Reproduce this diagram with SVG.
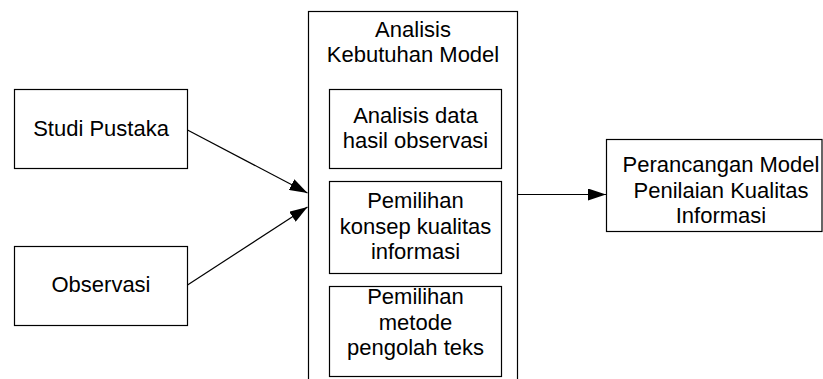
<svg xmlns="http://www.w3.org/2000/svg" width="823" height="379" viewBox="0 0 823 379">
<style>
.box{fill:#fff;stroke:#000;stroke-width:1.2}
.t{font-family:"Liberation Sans",Arial,sans-serif;font-size:22px;fill:#000;text-anchor:middle}
.c{fill:none;stroke:#000;stroke-width:1.2}
</style>
<defs>
<marker id="ah" markerWidth="18" markerHeight="12" refX="18" refY="6" orient="auto" markerUnits="userSpaceOnUse">
<path d="M0,0 L18,6 L0,12 Z" fill="#000"/>
</marker>
</defs>
<rect width="823" height="379" fill="#fff"/>
<g id="studi">
<rect class="box" x="14.5" y="89.5" width="173" height="79"/>
<text class="t" x="101" y="136">Studi Pustaka</text>
</g>
<g id="observasi">
<rect class="box" x="14.5" y="246.5" width="173" height="79"/>
<text class="t" x="101" y="292">Observasi</text>
</g>
<g id="analisis">
<rect class="box" x="308.5" y="11.5" width="209" height="380"/>
<text class="t" x="413" y="37">Analisis</text>
<text class="t" x="413" y="62">Kebutuhan Model</text>
</g>
<g id="sub1">
<rect class="box" x="329.5" y="89.5" width="172" height="79"/>
<text class="t" x="415.5" y="122.5">Analisis data</text>
<text class="t" x="415.5" y="148">hasil observasi</text>
</g>
<g id="sub2">
<rect class="box" x="329.5" y="181.5" width="172" height="92"/>
<text class="t" x="415.5" y="208">Pemilihan</text>
<text class="t" x="415.5" y="233.5">konsep kualitas</text>
<text class="t" x="415.5" y="259">informasi</text>
</g>
<g id="sub3">
<rect class="box" x="329.5" y="286.5" width="172" height="90"/>
<text class="t" x="415.5" y="304">Pemilihan</text>
<text class="t" x="415.5" y="329.5">metode</text>
<text class="t" x="415.5" y="355">pengolah teks</text>
</g>
<g id="perancangan">
<rect class="box" x="606.5" y="139.5" width="215.5" height="92"/>
<text class="t" x="721" y="171.5">Perancangan Model</text>
<text class="t" x="721" y="197.5">Penilaian Kualitas</text>
<text class="t" x="721" y="222.5">Informasi</text>
</g>
<g id="connectors">
<line class="c" x1="187.5" y1="130" x2="307.5" y2="193" marker-end="url(#ah)"/>
<line class="c" x1="187.5" y1="285" x2="307.5" y2="207" marker-end="url(#ah)"/>
<line class="c" x1="517.5" y1="194.5" x2="606" y2="194.5" marker-end="url(#ah)"/>
</g>
</svg>
